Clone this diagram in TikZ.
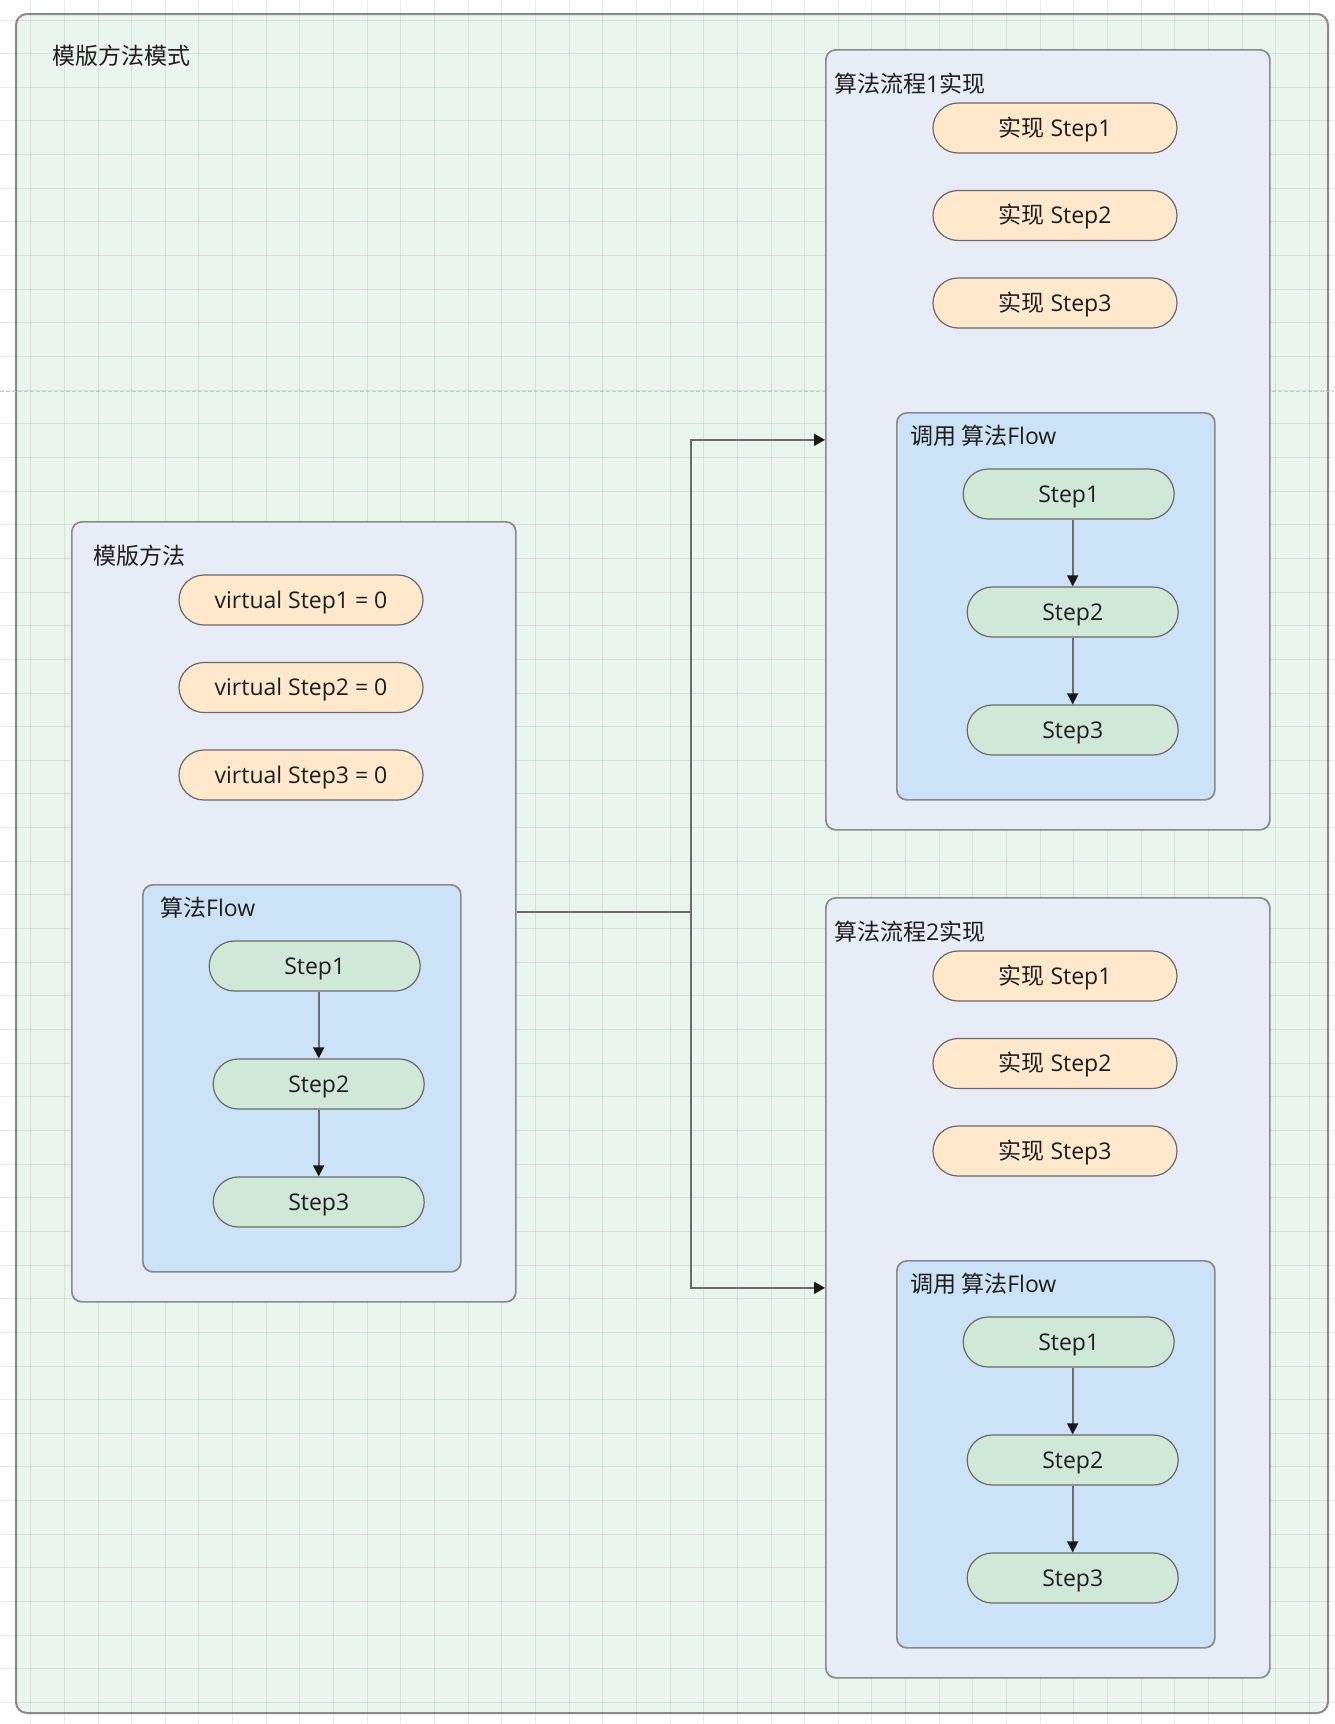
\documentclass[tikz,border=0pt]{standalone}
\usepackage{fontspec}
\setmainfont{Open Sans}
\newfontfamily\cjk{Noto Sans CJK SC}
\usetikzlibrary{arrows.meta,shapes.misc}

\definecolor{outerfill}{HTML}{EAF5ED}
\definecolor{outerline}{HTML}{8A8A8A}
\definecolor{panelfill}{HTML}{E8ECF7}
\definecolor{flowfill}{HTML}{CCE2F6}
\definecolor{implfill}{HTML}{FFE8CC}
\definecolor{stepfill}{HTML}{D0E8D8}
\definecolor{pillline}{HTML}{6A6A6A}
\definecolor{connline}{HTML}{6B6B6B}
\definecolor{textdark}{HTML}{1E1E1E}
\definecolor{breakline}{HTML}{C3CBC5}

\tikzset{
  labelfont/.style={font=\fontsize{23}{28}\selectfont, text=textdark},
  titletext/.style={labelfont, inner sep=0pt, anchor=west},
  panelbox/.style={draw=outerline, line width=1.7pt, fill=panelfill,
    rounded corners=10pt, anchor=north west, minimum width=444pt, minimum height=780pt, inner sep=0pt},
  flowbox/.style={draw=outerline, line width=1.7pt, fill=flowfill,
    rounded corners=10pt, anchor=north west, minimum width=318pt, minimum height=387pt, inner sep=0pt},
  pillbase/.style={rounded rectangle, draw=pillline, line width=1.2pt,
    minimum height=50pt, inner sep=0pt, text height=16.5pt, text depth=0pt, labelfont},
  implpill/.style={pillbase, fill=implfill, minimum width=244pt},
  steppill/.style={pillbase, fill=stepfill, minimum width=211pt},
  flowarrow/.style={draw=connline, line width=1.6pt,
    -{Triangle[length=11pt, width=11pt, color=black!90]}},
  connline/.style={draw=connline, line width=1.8pt},
  conn/.style={connline, -{Triangle[length=11pt, width=12pt, color=black!90]}},
  gridline/.style={draw=black, draw opacity=0.08, line width=1pt},
}

% One panel: outer box with three pills and an inner flow box with three chained steps.
% #1 title, #2 title x offset, #3 flow title, #4 flow title x offset, #5-#7 pill texts
\newcommand{\flowpanel}[7]{%
  \node[panelbox] (box) at (0,0) {};
  \node[titletext] (title) at (#2,35) {#1};
  \node[implpill] (p1) at (230,79) {#5};
  \node[implpill] (p2) at (230,166.5) {#6};
  \node[implpill] (p3) at (230,254) {#7};
  \node[flowbox] (flow) at (71,363) {};
  \node[titletext] (ftitle) at (71+#4,387) {#3};
  \node[steppill] (s1) at (71+172.7,363+82) {Step1};
  \node[steppill] (s2) at (71+176.7,363+200) {Step2};
  \node[steppill] (s3) at (71+176.7,363+318) {Step3};
  \draw[flowarrow] (s1.south -| s2.north) -- (s2.north);
  \draw[flowarrow] (s2.south) -- (s3.north);
}

\begin{document}
\begin{tikzpicture}[x=1pt,y=-1pt]
  \useasboundingbox (0,0) rectangle (1334,1724);
  \fill[white] (0,0) rectangle (1334,1724);

  % outer frame
  \node[draw=outerline, line width=2pt, fill=outerfill, rounded corners=11pt,
        anchor=north west, minimum width=1312pt, minimum height=1699pt, inner sep=0pt]
        (frame) at (15,13) {};

  % background grid
  \foreach \i in {0,...,38} \draw[gridline] ({30.7+33.65*\i},0) -- ++(0,1724);
  \foreach \j in {0,...,50} \draw[gridline] (0,{20+33.65*\j}) -- ++(1334,0);

  % page break
  \draw[breakline, line width=1pt, dash pattern=on 4pt off 2pt] (0,391) -- (1334,391);

  \node[titletext] (maintitle) at (52,56) {{\cjk 模版方法模式}};

  % abstract template
  \begin{scope}[shift={(71,521)}, name prefix=tm-]
    \flowpanel{{\cjk 模版方法}}{22}{{\cjk 算法}Flow}{18}%
      {virtual Step1 = 0}{virtual Step2 = 0}{virtual Step3 = 0}
  \end{scope}

  % first concrete flow
  \begin{scope}[shift={(825,49)}, name prefix=c1-]
    \flowpanel{{\cjk 算法流程}1{\cjk 实现}}{9}{{\cjk 调用 算法}Flow}{14}%
      {{\cjk 实现} Step1}{{\cjk 实现} Step2}{{\cjk 实现} Step3}
  \end{scope}

  % second concrete flow
  \begin{scope}[shift={(825,897)}, name prefix=c2-]
    \flowpanel{{\cjk 算法流程}2{\cjk 实现}}{9}{{\cjk 调用 算法}Flow}{14}%
      {{\cjk 实现} Step1}{{\cjk 实现} Step2}{{\cjk 实现} Step3}
  \end{scope}

  % connectors from the template to both implementations
  \coordinate (forkx) at (690.7,0);
  \coordinate (fork) at (tm-box.east -| forkx);
  \draw[connline] (tm-box.east) -- (fork);
  \draw[conn] (fork) |- (c1-box.west);
  \draw[conn] (fork) |- (c2-box.west);
\end{tikzpicture}
\end{document}
